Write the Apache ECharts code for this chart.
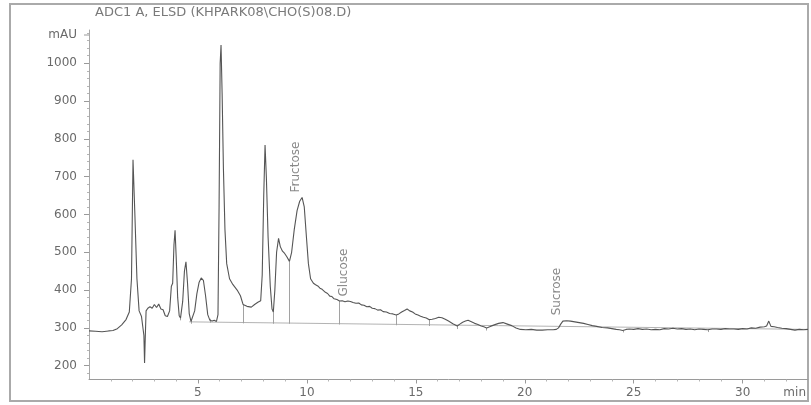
<!DOCTYPE html>
<html>
<head>
<meta charset="utf-8">
<script src="https://cdn.jsdelivr.net/npm/echarts@6/dist/echarts.min.js"></script>
<style>
  html, body { margin: 0; padding: 0; background: #fff; }
  #chart { width: 811px; height: 405px; }
</style>
</head>
<body>
<div id="chart"></div>
<script>
// ELSD detector trace: retention time (min) and response (mAU)
const times = [
  0.0, 0.3, 0.6, 0.9, 1.1, 1.3, 1.5, 1.7, 1.85, 1.95, 2.02, 2.1, 2.2, 2.3, 2.41, 2.48, 2.52, 2.55, 2.58, 2.62,
  2.7, 2.8, 2.9, 3.0, 3.1, 3.2, 3.3, 3.4, 3.5, 3.6, 3.7, 3.78, 3.84, 3.9, 3.95, 4.0, 4.07, 4.14, 4.2, 4.3,
  4.38, 4.45, 4.52, 4.6, 4.68, 4.75, 4.85, 4.95, 5.05, 5.15, 5.25, 5.35, 5.45, 5.55, 5.65, 5.75, 5.85, 5.92, 5.97, 6.02,
  6.06, 6.11, 6.17, 6.24, 6.32, 6.45, 6.6, 6.8, 6.95, 7.07, 7.25, 7.45, 7.6, 7.75, 7.88, 7.95, 8.02, 8.08, 8.14, 8.22,
  8.32, 8.4, 8.46, 8.53, 8.61, 8.7, 8.78, 8.88, 8.98, 9.08, 9.2, 9.3, 9.42, 9.55, 9.67, 9.78, 9.88, 9.98, 10.07, 10.17,
  10.3, 10.4, 10.5, 10.6, 10.7, 10.85, 10.95, 11.05, 11.15, 11.25, 11.38, 11.5, 11.62, 11.75, 11.88, 12.0, 12.12, 12.25, 12.38, 12.5,
  12.62, 12.75, 12.88, 13.0, 13.12, 13.25, 13.38, 13.5, 13.65, 13.8, 13.95, 14.1, 14.22, 14.35, 14.48, 14.6, 14.72, 14.85, 14.97, 15.1,
  15.22, 15.35, 15.48, 15.6, 15.75, 15.9, 16.05, 16.2, 16.35, 16.5, 16.7, 16.9, 17.02, 17.15, 17.28, 17.4, 17.55, 17.7, 17.85, 18.0,
  18.12, 18.25, 18.42, 18.6, 18.8, 19.0, 19.2, 19.4, 19.6, 19.8, 20.05, 20.3, 20.55, 20.8, 21.05, 21.3, 21.45, 21.55, 21.65, 21.75,
  21.92, 22.1, 22.3, 22.5, 22.7, 22.9, 23.1, 23.3, 23.55, 23.8, 24.0, 24.2, 24.35, 24.5, 24.65, 24.8, 25.0, 25.2, 25.4, 25.6,
  25.8, 26.0, 26.2, 26.4, 26.6, 26.8, 27.0, 27.2, 27.4, 27.6, 27.8, 28.0, 28.2, 28.4, 28.6, 28.8, 29.0, 29.2, 29.4, 29.6,
  29.8, 30.0, 30.2, 30.4, 30.6, 30.8, 31.0, 31.1, 31.2, 31.3, 31.45, 31.6, 31.8, 32.0, 32.2, 32.4, 32.6, 32.8, 33.0
];
const signal = [
  292, 291, 290, 292, 293, 298, 308, 322, 342, 430, 745, 610, 430, 345, 330, 325, 280, 207, 270, 345,
  352, 356, 352, 362, 354, 363, 350, 348, 332, 330, 345, 410, 418, 520, 558, 490, 380, 332, 326, 370,
  450, 475, 420, 338, 317, 320, 345, 390, 420, 432, 426, 385, 335, 320, 318, 320, 317, 335, 620, 1000,
  1048, 920, 720, 560, 470, 430, 415, 400, 385, 362, 357, 355, 362, 368, 372, 440, 650, 784, 700, 540,
  410, 350, 342, 400, 500, 537, 515, 503, 497, 488, 476, 500, 560, 610, 635, 645, 620, 540, 470, 430,
  418, 414, 411, 405, 402, 394, 391, 384, 383, 377, 375, 371, 372, 369, 371, 370, 367, 365, 366, 361,
  360, 356, 357, 352, 351, 347, 348, 343, 342, 338, 337, 334, 337, 342, 346, 350, 345, 342, 337, 334,
  331, 328, 326, 322, 323, 325, 328, 327, 323, 318, 311, 305, 310, 315, 318, 320, 316, 312, 309, 305,
  303, 300, 304, 308, 312, 314, 310, 306, 300, 296, 295, 296, 294, 294, 295, 295, 296, 300, 310, 318,
  319, 318, 316, 314, 312, 309, 306, 304, 301, 300, 298, 296, 295, 293, 296, 297, 296, 298, 296, 297,
  295, 296, 295, 298, 297, 299, 297, 298, 296, 297, 295, 297, 296, 295, 297, 297, 296, 298, 297, 297,
  296, 298, 297, 300, 299, 302, 303, 305, 318, 304, 303, 301, 299, 298, 296, 294, 296, 295, 296
];

// integration baseline end points
const baselineTimes = [4.6, 33.0];
const baselineValues = [316, 296];

// peak start/end drop lines: time, lower end, upper end
const dropTimes   = [4.2, 4.68, 5.55, 7.07, 8.46, 9.2, 11.5, 14.1, 15.6, 16.9, 18.25, 24.5, 28.4];
const dropBottoms = [320, 311, 314, 312, 311, 311, 309, 307, 305, 297, 293, 288, 289];
const dropTops    = [330, 321, 324, 362, 342, 476, 371, 334, 322, 305, 300, 293, 295];

// named peaks
const peakNames  = ['Fructose', 'Glucose', 'Sucrose'];
const peakTimes  = [9.75, 11.97, 21.75];
const peakLevels = [645, 370, 320];

// axis ticks
const xLabelValues = [5, 10, 15, 20, 25, 30];
const yLabelValues = [200, 300, 400, 500, 600, 700, 800, 900, 1000];
const xMinorValues = [];
for (let m = 1; m <= 32; m++) if (m % 5 !== 0) xMinorValues.push(m);
const yMinorValues = [];
for (let v = 180; v <= 1080; v += 20) if (v % 100 !== 0) yMinorValues.push(v);

const X_MIN = 0, X_MAX = 33, Y_MIN = 163.5, Y_MAX = 1088;
const AXIS_GREY = '#9a9a9a';
const TEXT_GREY = '#6a6a6a';
const FONT = 'DejaVu Sans, Verdana, sans-serif';

const chart = echarts.init(document.getElementById('chart'), null, { renderer: 'canvas' });

const trace = times.map((t, i) => [t, signal[i]]);
const baseline = baselineTimes.map((t, i) => [t, baselineValues[i]]);
const drops = dropTimes.map((t, i) => ({ coords: [[t, dropBottoms[i]], [t, dropTops[i]]] }));
const peaks = peakNames.map((n, i) => [peakTimes[i], peakLevels[i], n]);

chart.setOption({
  animation: false,
  backgroundColor: '#fff',
  grid: { left: 89, right: 3, top: 30, bottom: 25.5 },
  xAxis: [
    {
      type: 'value', min: X_MIN, max: X_MAX,
      axisLine: { show: true, lineStyle: { color: AXIS_GREY, width: 1 } },
      axisTick: { show: true, customValues: xLabelValues, length: 4, lineStyle: { color: AXIS_GREY } },
      axisLabel: { customValues: xLabelValues, formatter: v => String(v), color: TEXT_GREY, fontSize: 12, fontFamily: FONT, margin: 7 },
      splitLine: { show: false }
    },
    {
      type: 'value', min: X_MIN, max: X_MAX, position: 'bottom',
      axisLine: { show: false },
      axisTick: { show: true, customValues: xMinorValues, length: 2, lineStyle: { color: '#b5b5b5' } },
      axisLabel: { show: false },
      splitLine: { show: false }
    }
  ],
  yAxis: [
    {
      type: 'value', min: Y_MIN, max: Y_MAX,
      axisLine: { show: true, lineStyle: { color: '#a8a8a8', width: 1 } },
      axisTick: { show: true, customValues: yLabelValues, length: 5, lineStyle: { color: AXIS_GREY } },
      axisLabel: { customValues: yLabelValues, formatter: v => String(v), color: TEXT_GREY, fontSize: 12, fontFamily: FONT, margin: 12 },
      splitLine: { show: false }
    },
    {
      type: 'value', min: Y_MIN, max: Y_MAX, position: 'left',
      axisLine: { show: false },
      axisTick: { show: true, customValues: yMinorValues, length: 2, lineStyle: { color: '#b5b5b5' } },
      axisLabel: { show: false },
      splitLine: { show: false }
    }
  ],
  series: [
    {
      name: 'baseline', type: 'line', data: baseline, showSymbol: false, silent: true,
      lineStyle: { color: '#a0a0a0', width: 0.8 }, z: 2
    },
    {
      name: 'drops', type: 'lines', coordinateSystem: 'cartesian2d', data: drops, silent: true,
      lineStyle: { color: '#8a8a8a', width: 0.8, opacity: 1 }, z: 2
    },
    {
      name: 'ELSD', type: 'line', data: trace, showSymbol: false, silent: true,
      lineStyle: { color: '#555555', width: 1.1 }, z: 3
    },
    {
      name: 'peaks', type: 'scatter', data: peaks, symbolSize: 0, silent: true,
      label: {
        show: true, position: 'top', distance: 5, rotate: 90,
        align: 'left', verticalAlign: 'bottom',
        formatter: p => p.data[2],
        color: TEXT_GREY, fontSize: 12, fontFamily: FONT
      }, z: 4
    }
  ],
  graphic: [
    {
      type: 'rect', shape: { x: 10, y: 4, width: 798, height: 397 },
      style: { fill: 'none', stroke: '#aaaaaa', lineWidth: 2 }, silent: true
    },
    {
      type: 'text', left: 95, top: 6,
      style: { text: 'ADC1 A, ELSD (KHPARK08\\CHO(S)08.D)', fill: '#7a7a7a', fontSize: 13, fontFamily: FONT }
    },
    {
      type: 'text', x: 77, y: 35,
      style: { text: 'mAU', fill: TEXT_GREY, fontSize: 12, fontFamily: FONT, align: 'right', verticalAlign: 'middle' }
    },
    {
      type: 'line', shape: { x1: 84, y1: 35, x2: 89, y2: 35 },
      style: { stroke: AXIS_GREY, lineWidth: 1 }
    },
    {
      type: 'text', x: 806, y: 393,
      style: { text: 'min', fill: TEXT_GREY, fontSize: 12, fontFamily: FONT, align: 'right', verticalAlign: 'middle' }
    }
  ]
});
</script>
</body>
</html>
